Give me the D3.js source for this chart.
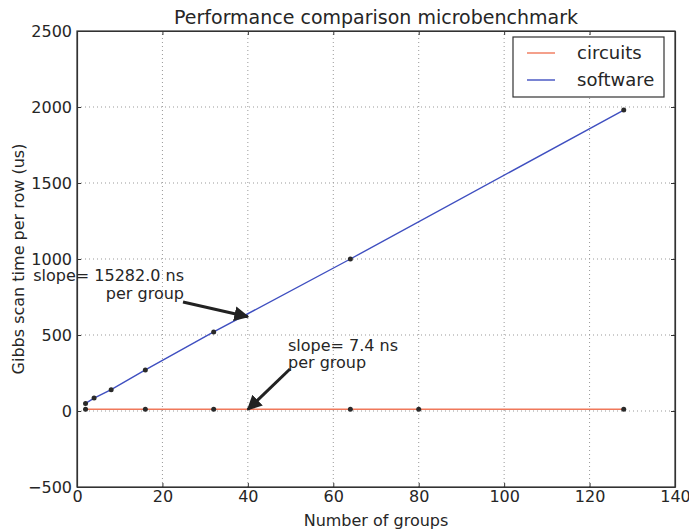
<!DOCTYPE html>
<html>
<head>
<meta charset="utf-8">
<style>
  body { margin: 0; background: #fff; }
  text { font-family: "DejaVu Sans", sans-serif; fill: #262626; }
  .grid line { stroke: #999; stroke-dasharray: 1,3; }
</style>
</head>
<body>
<div id="chart"></div>
<script src="https://d3js.org/d3.v7.min.js"></script>
<script>
var softwareX = [2, 4, 8, 16, 32, 64, 128];
var softwareY = [50, 85, 140, 270, 520, 1000, 1980];
var circuitsX = [2, 16, 32, 64, 80, 128];
var circuitsY = [12, 12, 12, 12, 12, 12];
var xTicks = [0, 20, 40, 60, 80, 100, 120, 140];
var yTicks = [-500, 0, 500, 1000, 1500, 2000, 2500];

var width = 689, height = 531;
var margin = {top: 31, right: 14, bottom: 44, left: 77};

var svg = d3.select("#chart").append("svg")
    .attr("width", width).attr("height", height);

var x = d3.scaleLinear().domain([0, 140]).range([margin.left, width - margin.right]);
var y = d3.scaleLinear().domain([-500, 2500]).range([height - margin.bottom, margin.top]);

// grid
var grid = svg.append("g").attr("class", "grid");
grid.selectAll(".gx").data(xTicks.slice(1, -1)).enter().append("line")
    .attr("x1", function(d) { return x(d); }).attr("x2", function(d) { return x(d); })
    .attr("y1", y.range()[0]).attr("y2", y.range()[1]);
grid.selectAll(".gy").data(yTicks.slice(1, -1)).enter().append("line")
    .attr("y1", function(d) { return y(d); }).attr("y2", function(d) { return y(d); })
    .attr("x1", x.range()[0]).attr("x2", x.range()[1]);

var line = d3.line()
    .x(function(d) { return x(d[0]); })
    .y(function(d) { return y(d[1]); });

var circuits = circuitsX.map(function(d, i) { return [d, circuitsY[i]]; });
var software = softwareX.map(function(d, i) { return [d, softwareY[i]]; });

svg.append("path").datum(circuits).attr("d", line)
    .attr("fill", "none").attr("stroke", "#f0785a").attr("stroke-width", 1.5);
svg.append("path").datum(software).attr("d", line)
    .attr("fill", "none").attr("stroke", "#3f4fc0").attr("stroke-width", 1.4);

svg.selectAll(".pt").data(circuits.concat(software)).enter().append("circle")
    .attr("cx", function(d) { return x(d[0]); })
    .attr("cy", function(d) { return y(d[1]); })
    .attr("r", 2.5).attr("fill", "#2a2a2a");

// axes (ticks inside, on all sides)
var fs = "16px";
svg.append("g").attr("transform", "translate(0," + y.range()[0] + ")")
    .call(d3.axisBottom(x).tickValues(xTicks).tickSizeInner(-4).tickSizeOuter(0).tickPadding(4))
    .call(function(g) { g.selectAll("text").style("font-size", fs); });
svg.append("g").attr("transform", "translate(0," + y.range()[1] + ")")
    .call(d3.axisTop(x).tickValues(xTicks).tickSizeInner(-4).tickSizeOuter(0).tickFormat(""));
svg.append("g").attr("transform", "translate(" + x.range()[0] + ",0)")
    .call(d3.axisLeft(y).tickValues(yTicks).tickSizeInner(-4).tickSizeOuter(0).tickPadding(5)
      .tickFormat(function(d) { return d < 0 ? "\u2212" + Math.abs(d) : d; }))
    .call(function(g) { g.selectAll("text").style("font-size", fs); });
svg.append("g").attr("transform", "translate(" + x.range()[1] + ",0)")
    .call(d3.axisRight(y).tickValues(yTicks).tickSizeInner(-4).tickSizeOuter(0).tickFormat(""));
svg.selectAll(".domain").attr("stroke", "#333").attr("stroke-width", 1.2);
svg.selectAll(".tick line").attr("stroke", "#333");

svg.append("rect")
    .attr("x", x.range()[0]).attr("y", y.range()[1])
    .attr("width", x.range()[1] - x.range()[0]).attr("height", y.range()[0] - y.range()[1])
    .attr("fill", "none").attr("stroke", "#333").attr("stroke-width", 1.2);

// labels
svg.append("text").attr("x", (x.range()[0] + x.range()[1]) / 2).attr("y", 24)
    .attr("text-anchor", "middle").style("font-size", "19px")
    .text("Performance comparison microbenchmark");
svg.append("text").attr("x", (x.range()[0] + x.range()[1]) / 2).attr("y", 526)
    .attr("text-anchor", "middle").style("font-size", "16px")
    .text("Number of groups");
svg.append("text").attr("transform", "translate(24," + y(1000) + ") rotate(-90)")
    .attr("text-anchor", "middle").style("font-size", "16px")
    .text("Gibbs scan time per row (us)");

// annotations
svg.append("defs").append("marker")
    .attr("id", "ah").attr("viewBox", "0 0 10 10").attr("refX", 9).attr("refY", 5)
    .attr("markerWidth", 5).attr("markerHeight", 5).attr("orient", "auto")
  .append("path").attr("d", "M0,0 L10,5 L0,10 z").attr("fill", "#222");

function arrow(x1, y1, tx, ty) {
  svg.append("line").attr("x1", x1).attr("y1", y1)
      .attr("x2", x(tx)).attr("y2", y(ty))
      .attr("stroke", "#222").attr("stroke-width", 3).attr("marker-end", "url(#ah)");
}
arrow(183, 302, 40, 620);
arrow(290, 369, 40, 10);

var a1 = svg.append("text").attr("text-anchor", "end").style("font-size", "16px");
a1.append("tspan").attr("x", 184).attr("y", 281).text("slope= 15282.0 ns");
a1.append("tspan").attr("x", 184).attr("y", 299).text("per group");
var a2 = svg.append("text").attr("text-anchor", "start").style("font-size", "16px");
a2.append("tspan").attr("x", 288).attr("y", 351).text("slope= 7.4 ns");
a2.append("tspan").attr("x", 288).attr("y", 368).text("per group");

// legend
var lg = svg.append("g").attr("transform", "translate(513,37)");
lg.append("rect").attr("width", 151).attr("height", 60)
    .attr("fill", "#fff").attr("stroke", "#333").attr("stroke-width", 1.2);
[["circuits", "#f0785a"], ["software", "#3f4fc0"]].forEach(function(d, i) {
  lg.append("line").attr("x1", 14).attr("x2", 42).attr("y1", 16 + i * 27).attr("y2", 16 + i * 27)
      .attr("stroke", d[1]).attr("stroke-width", 1.4);
  lg.append("text").attr("x", 64).attr("y", 22 + i * 27).style("font-size", "18px").text(d[0]);
});
</script>
</body>
</html>
